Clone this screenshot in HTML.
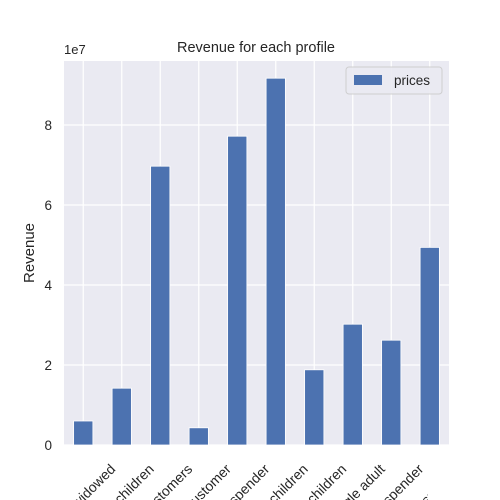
<!DOCTYPE html>
<html><head><meta charset="utf-8"><style>
html,body{margin:0;background:#fff;width:500px;height:500px;overflow:hidden}
svg{display:block}
svg text{font-family:"Liberation Sans",sans-serif;fill:#262626}
</style></head><body>
<svg id="chart" width="500" height="500">
<defs><clipPath id="lc"><rect x="0" y="440" width="428" height="60"/></clipPath></defs>
<rect x="64" y="61" width="385" height="384" fill="#eaeaf2"/>
<g id="grid"></g><g id="bars"></g><g id="ticks"></g><g id="xticks" clip-path="url(#lc)"></g>
<text x="256" y="52" text-anchor="middle" font-size="14.5">Revenue for each profile</text>
<text x="64" y="54" font-size="13">1e7</text>
<text transform="translate(34,253) rotate(-90)" text-anchor="middle" font-size="15">Revenue</text>
<g>
<rect x="346" y="67" width="96" height="27" rx="3" fill="#eaeaf2" stroke="#cccccc" opacity="0.9"/>
<rect x="354" y="75" width="28" height="10" fill="#4c72b0"/>
<text x="394" y="85" font-size="13.5">prices</text>
</g>
</svg>
<script>
const categories=["Retired widowed","Young family with children","New customers","Loyal customer","Big spender","Couple no children","Family with children","Single adult","Low spender","Occasional spender"];
const labels=["Retired widowed","Family with children","New customers","Loyal customer","Big spender","Couple no children","Family with children","Single adult","Low spender","Occasional spender"];
const prices=[0.6e7,1.42e7,6.97e7,0.43e7,7.72e7,9.17e7,1.88e7,3.02e7,2.62e7,4.94e7];
const yTicks=[0,2,4,6,8];
const NS="http://www.w3.org/2000/svg";
const x0=64,x1=449,y0=445,y1=61,ymax=9.6e7;
const bw=(x1-x0)/categories.length;
const xs=i=>x0+bw*(i+0.5);
const ys=v=>y0-(v/ymax)*(y0-y1);
function mk(t,a,p){const e=document.createElementNS(NS,t);for(const k in a)e.setAttribute(k,a[k]);p.appendChild(e);return e;}
const grid=document.getElementById('grid'),bars=document.getElementById('bars'),ticks=document.getElementById('ticks'),xticks=document.getElementById('xticks');
yTicks.forEach(t=>{const y=ys(t*1e7);
 const l=mk('line',{x1:x0,x2:x1,y1:y,y2:y,stroke:'#fff','stroke-width':1.2},grid);
 
 
 const tx=mk('text',{x:52,y:y+5,'text-anchor':'end','font-size':13.5},ticks);tx.textContent=t;
 
 
});
categories.forEach((c,i)=>{const x=xs(i);
 const l=mk('line',{x1:x,x2:x,y1:y0,y2:y1,stroke:'#fff','stroke-width':1.2},grid);
 
 
 const r=mk('rect',{x:x-bw/4,y:ys(prices[i]),width:bw/2,height:y0-ys(prices[i]),fill:'#4c72b0',stroke:'#fff','stroke-width':0.8},bars);
 
 
 const tx=mk('text',{'text-anchor':'end','font-size':14},xticks);tx.textContent=labels[i];
 
 
 tx.setAttribute('transform','translate('+(x+33)+',470) rotate(-45)');
});
</script>
</body></html>
